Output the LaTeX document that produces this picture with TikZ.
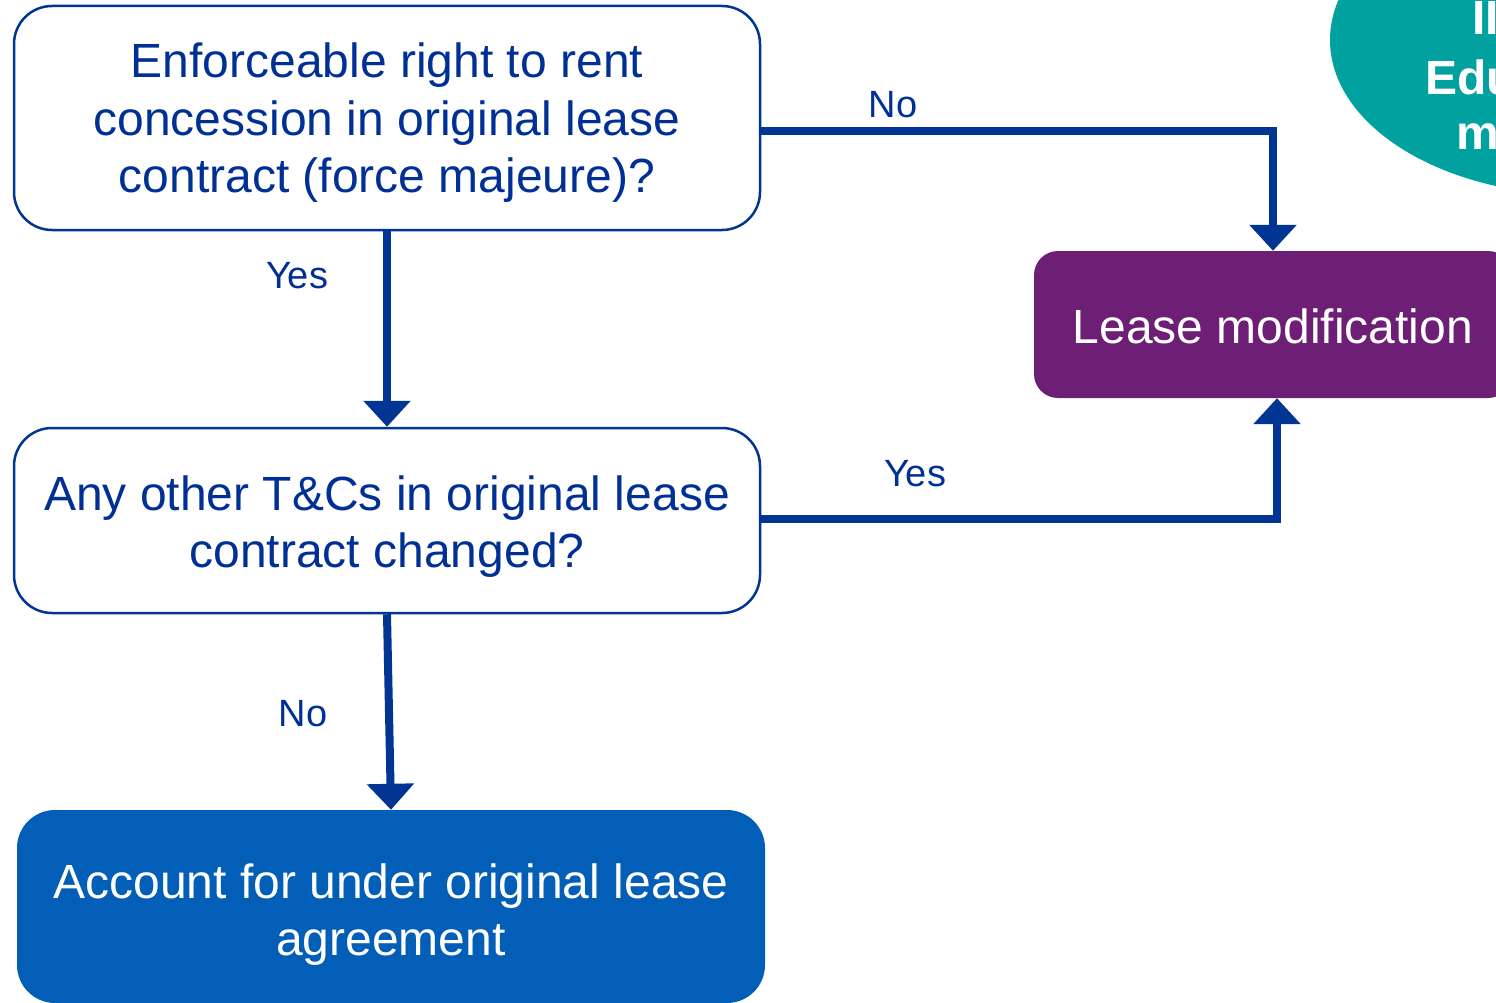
\documentclass[tikz,border=0pt]{standalone}
\usepackage{fontspec}
\setmainfont{Liberation Sans}
\usetikzlibrary{arrows.meta}
\definecolor{navy}{RGB}{0,53,148}
\definecolor{navytext}{RGB}{0,48,150}
\definecolor{plum}{RGB}{108,31,117}
\definecolor{ocean}{RGB}{3,94,183}
\definecolor{tealblob}{RGB}{0,161,159}
\tikzset{
  question/.style={draw=navy, line width=2.5pt, fill=white, rounded corners=38pt, inner sep=0pt},
  outcome/.style={rounded corners=24pt, inner sep=0pt},
  boxtext/.style={align=center, inner sep=0pt, font=\fontsize{48}{57.5}\selectfont},
  flow/.style={draw=navy, line width=8pt, -{Triangle[width=46pt,length=26pt]}},
  answer/.style={text=navytext, font=\fontsize{38}{44}\selectfont, inner sep=0pt},
  blobtext/.style={text=white, font=\bfseries\fontsize{48}{57.5}\selectfont,
    anchor=base west, inner sep=0pt}
}
\begin{document}
\begin{tikzpicture}[x=1pt,y=-1pt]
\useasboundingbox (0,0) rectangle (1496,1003);
\clip (0,0) rectangle (1496,1003);

% teal badge in the corner
\fill[tealblob] (1580,40) ellipse [x radius=250, y radius=155];
\node[blobtext] (b1) at (1472,35) {II};
\node[blobtext] (b2) at (1425,95) {Edu};
\node[blobtext] (b3) at (1456,150) {m};

% decision boxes
\node[question, minimum width=746pt, minimum height=224pt] (q1) at (387,118) {};
\node[boxtext, text=navytext] (q1t) at ([yshift=-5pt]q1.center)
  {Enforceable right to rent\\concession in original lease\\contract (force majeure)?};
\node[question, minimum width=746pt, minimum height=185pt] (q2) at (387,520.5) {};
\node[boxtext, text=navytext] (q2t) at ([yshift=-6pt]q2.center)
  {Any other T\&Cs in original lease\\contract changed?};

% outcome boxes
\node[outcome, fill=plum, minimum width=478pt, minimum height=147pt] (lm) at (1273,324.5) {};
\node[boxtext, text=white] (lmt) at ([yshift=-2pt]lm.center) {Lease modification};
\node[outcome, fill=ocean, minimum width=748pt, minimum height=193pt, rounded corners=38pt] (acc) at (391,906.5) {};
\node[boxtext, text=white] (acct) at ([yshift=-8pt]acc.center)
  {Account for under original lease\\agreement};

% connectors
\draw[flow] ([yshift=-13pt]q1.east) -| (lm.north);
\draw[flow] ([yshift=2pt]q2.east) -| ([xshift=4pt]lm.south);
\draw[flow] (q1.south) -- (q2.north);
\draw[flow] (q2.south) -- (acc.north);

% answer labels
\node[answer] (l1) at (893,105) {No};
\node[answer] (l2) at (297,276) {Yes};
\node[answer] (l3) at (915,474) {Yes};
\node[answer] (l4) at (303,714) {No};
\end{tikzpicture}
\end{document}
